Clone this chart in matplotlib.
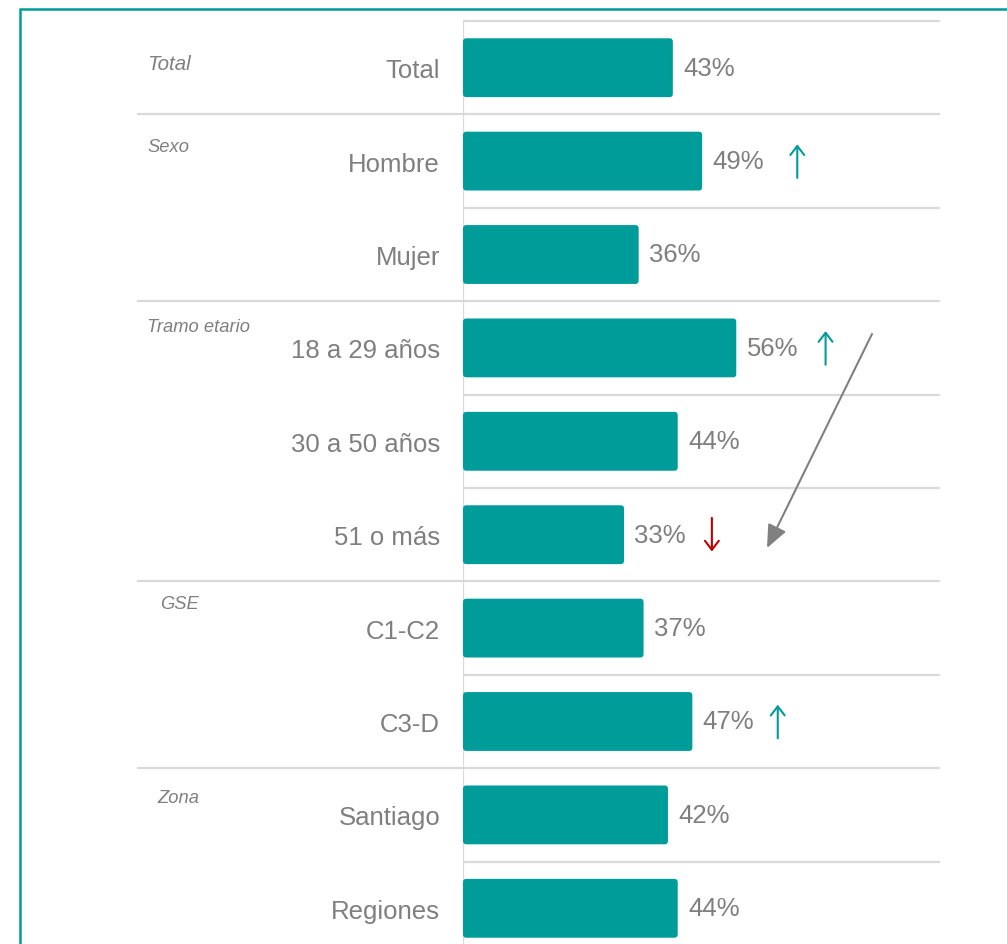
import matplotlib
matplotlib.use("Agg")
import matplotlib.pyplot as plt
from matplotlib.patches import FancyBboxPatch, Rectangle

plt.rcParams['font.family'] = ['Liberation Sans', 'DejaVu Sans']

# ---- data ----
categories = ["Total", "Hombre", "Mujer", "18 a 29 años", "30 a 50 años", "51 o más",
              "C1-C2", "C3-D", "Santiago", "Regiones"]
values = [43, 49, 36, 56, 44, 33, 37, 47, 42, 44]
# significance marker: 1 = up (teal), -1 = down (red), 0 = none
signif = [0, 1, 0, 1, 0, -1, 0, 1, 0, 0]
groups = ["Total", "Sexo", "Tramo etario", "GSE", "Zona"]
group_start = [0, 1, 3, 6, 8]

# ---- style / layout ----
TEAL = "#009C99"
GREY_TXT = "#7F7F7F"
GRID = "#D9D9D9"
RED = "#C00000"

W, H = 1007, 945
fig = plt.figure(figsize=(W / 100, H / 100), dpi=100)
fig.patch.set_facecolor("white")

ax_left_px, ax_right_px = 463, 940
ax_top_px, ax_bot_px = 22, 956
ax = fig.add_axes([ax_left_px / W, 1 - ax_bot_px / H,
                   (ax_right_px - ax_left_px) / W, (ax_bot_px - ax_top_px) / H])
px_per_unit = 4.88
xmax = (ax_right_px - ax_left_px) / px_per_unit
n = len(categories)
ax.set_xlim(0, xmax)
ax.set_ylim(n - 0.5, -0.5)
for s in ax.spines.values():
    s.set_visible(False)
ax.set_xticks([])
ax.set_yticks(range(n))
ax.set_yticklabels(categories, fontsize=18.5, color=GREY_TXT)
ax.tick_params(axis="y", length=0, pad=16.5)

# bars (rounded)
bar_h = 0.63
bars = ax.barh(range(n), values, height=bar_h, color=TEAL)
row_px = (ax_bot_px - ax_top_px) / n
aspect = px_per_unit / row_px
for rect in bars:
    rect.set_visible(False)
    p = FancyBboxPatch((rect.get_x(), rect.get_y()), rect.get_width(), rect.get_height(),
                       boxstyle="round,pad=0,rounding_size=0.7", mutation_aspect=aspect,
                       facecolor=TEAL, edgecolor="none", zorder=3)
    ax.add_patch(p)

# separators
group_bounds = set(g - 0.5 for g in group_start)
ytr = ax.get_yaxis_transform()
left_frac = (137 - ax_left_px) / (ax_right_px - ax_left_px)
for b in [i - 0.5 for i in range(n)]:
    x0 = left_frac if (b in group_bounds and b > -0.5) else 0
    ax.plot([x0, 1], [b, b], transform=ytr, color=GRID, lw=1.6,
            clip_on=False, zorder=1, solid_capstyle="butt")
ax.axvline(0, color=GRID, lw=1.6, zorder=2)

# value labels and significance arrows
arrow_gap = [0, 19.5, 0, 18.3, 0, 18.0, 0, 17.5, 0, 0]
for i, (v, s) in enumerate(zip(values, signif)):
    ax.annotate(f"{v}%", xy=(v, i), xytext=(7.5, 0), textcoords="offset points",
                va="center", ha="left", fontsize=18.5, color=GREY_TXT)
    if s != 0:
        col = TEAL if s > 0 else RED
        x = v + arrow_gap[i]
        y0, y1 = (i + 0.18, i - 0.18) if s > 0 else (i - 0.18, i + 0.18)
        ax.annotate("", xy=(x, y1), xytext=(x, y0),
                    arrowprops=dict(arrowstyle="->,head_length=0.65,head_width=0.5",
                                    color=col, lw=1.5, mutation_scale=10,
                                    shrinkA=0, shrinkB=0))

# group labels (italic)
group_x_px = [147, 147, 147, 160, 157]
group_y_px = [64, 147, 328, 605, 799]
group_fs = [14.8, 13.2, 13.2, 13.2, 13.2]
for g, gx, gy, fs in zip(groups, group_x_px, group_y_px, group_fs):
    xf = (gx - ax_left_px) / (ax_right_px - ax_left_px)
    yd = (gy - ax_top_px) / row_px - 0.5
    ax.text(xf, yd, g, transform=ytr, ha="left", va="center", fontsize=fs,
            style="italic", color=GREY_TXT, clip_on=False)

# grey diagonal arrow
def px_to_data(xp, yp):
    return (xp - ax_left_px) / px_per_unit, (yp - ax_top_px) / row_px - 0.5

ax.annotate("", xy=px_to_data(767, 549), xytext=px_to_data(872, 335),
            arrowprops=dict(arrowstyle="-|>,head_length=1.4,head_width=0.6",
                            color="#808080", lw=1.5, mutation_scale=10,
                            shrinkA=0, shrinkB=0))

# teal frame
fig.add_artist(Rectangle((19.5 / W, -0.1), 2, 1.1 - 9.5 / H, transform=fig.transFigure,
                         fill=False, edgecolor=TEAL, lw=1.8, clip_on=False))

fig.savefig("out.png", dpi=100, facecolor="white")
